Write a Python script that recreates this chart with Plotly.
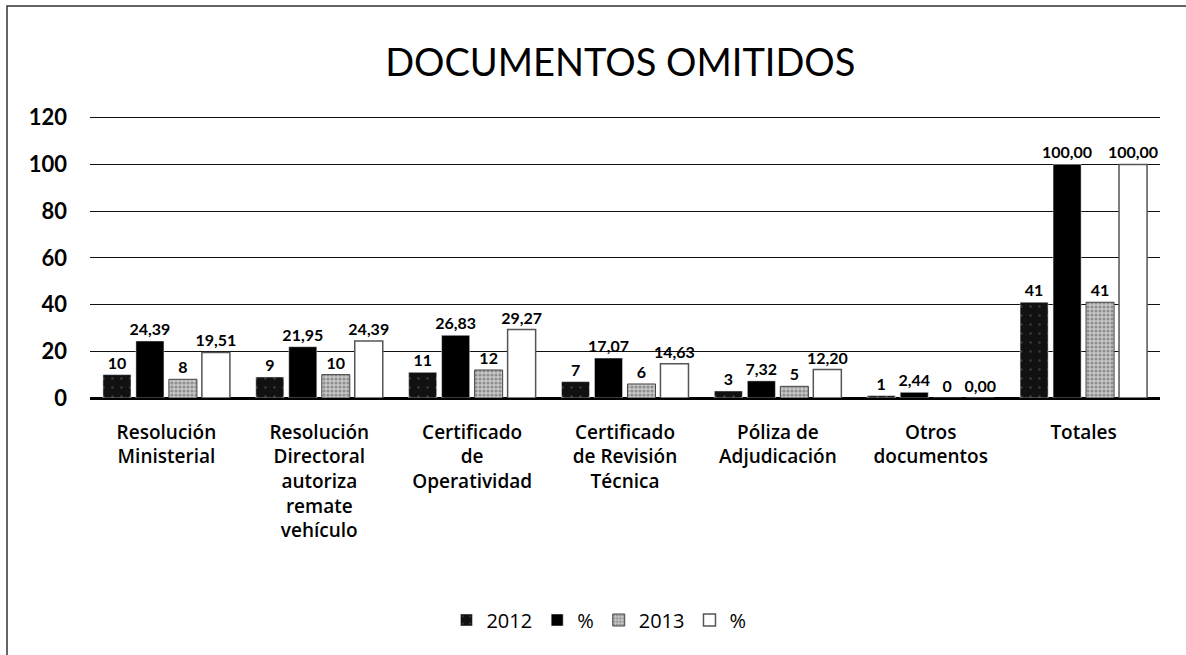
import plotly.graph_objects as go

# categories and series
categorias = [
    "Resolución<br>Ministerial",
    "Resolución<br>Directoral<br>autoriza<br>remate<br>vehículo",
    "Certificado<br>de<br>Operatividad",
    "Certificado<br>de Revisión<br>Técnica",
    "Póliza de<br>Adjudicación",
    "Otros<br>documentos",
    "Totales",
]
cant_2012 = [10, 9, 11, 7, 3, 1, 41]
pct_2012 = [24.39, 21.95, 26.83, 17.07, 7.32, 2.44, 100.00]
cant_2013 = [8, 10, 12, 6, 5, 0, 41]
pct_2013 = [19.51, 24.39, 29.27, 14.63, 12.20, 0.00, 100.00]

FONT = "Lato"
FONT2 = "Open Sans"
lbl_font = dict(family=FONT, size=16, color="black", weight="bold")

fig = go.Figure()

# 2012 - black speckled
fig.add_trace(go.Bar(
    name="2012", x=categorias, y=cant_2012,
    texttemplate="%{y}", textposition="outside", textfont=lbl_font, constraintext="none",
    marker=dict(color="#111111",
                pattern=dict(shape=".", fgcolor="#666666", bgcolor="#111111", size=9, solidity=0.06)),
    cliponaxis=False,
))
# % 2012 - solid black
fig.add_trace(go.Bar(
    name="%", x=categorias, y=pct_2012,
    texttemplate="%{y:.2f}", textposition="outside", textfont=lbl_font, constraintext="none",
    marker=dict(color="#000000"),
    cliponaxis=False,
))
# 2013 - gray speckled
fig.add_trace(go.Bar(
    name="2013", x=categorias, y=cant_2013,
    texttemplate="%{y}", textposition="outside", textfont=lbl_font, constraintext="none",
    marker=dict(color="#aaaaaa", line=dict(color="#444444", width=1),
                pattern=dict(shape=".", fgcolor="#555555", bgcolor="#c8c8c8", size=4, solidity=0.5)),
    cliponaxis=False,
))
# % 2013 - white with grey outline
fig.add_trace(go.Bar(
    name="%", x=categorias, y=pct_2013,
    texttemplate="%{y:.2f}", textposition="outside", textfont=lbl_font, constraintext="none",
    marker=dict(color="white", line=dict(color="#555555", width=1.5)),
    cliponaxis=False,
))

fig.update_layout(
    width=1186, height=655,
    paper_bgcolor="white", plot_bgcolor="white",
    separators=",.",
    font=dict(family=FONT, color="black"),
    margin=dict(l=90, r=26, t=113, b=257, autoexpand=False),
    barmode="group", bargap=0.137, bargroupgap=0.15,
    title=dict(text="DOCUMENTOS OMITIDOS", x=0.523, xanchor="center", y=0.905, yanchor="middle",
               font=dict(family=FONT, size=38, color="black")),
    legend=dict(orientation="h", xref="container", yref="container",
                x=0.505, xanchor="center", y=35 / 655, yanchor="middle",
                font=dict(family=FONT2, size=20, color="black"), itemwidth=30,
                traceorder="normal"),
    showlegend=True,
)

fig.update_yaxes(range=[0, 122], tick0=0, dtick=20, showgrid=True, gridcolor="#111111", gridwidth=1,
                 zeroline=True, zerolinecolor="black", zerolinewidth=1.5, automargin=False,
                 tickfont=dict(family=FONT, size=22, color="black", weight="bold"),
                 ticks="", ticklabelstandoff=22)
fig.update_xaxes(showline=True, linecolor="black", linewidth=1.5, ticks="", automargin=False,
                 tickfont=dict(family=FONT2, size=19, color="black", weight=600),
                 tickangle=0, ticklabelstandoff=16)

# outer frame of the chart (left and top edges visible)
fig.add_shape(type="rect", xref="paper", yref="paper",
              x0=(7 - 90) / 1070, x1=(1200 - 90) / 1070,
              y0=(398 - 670) / 285, y1=(398 - 6) / 285,
              line=dict(color="#333333", width=1.5), fillcolor="rgba(0,0,0,0)", layer="below")

fig.write_html("out.html", config={"displayModeBar": False},
               post_script="document.body.style.margin='0';")
